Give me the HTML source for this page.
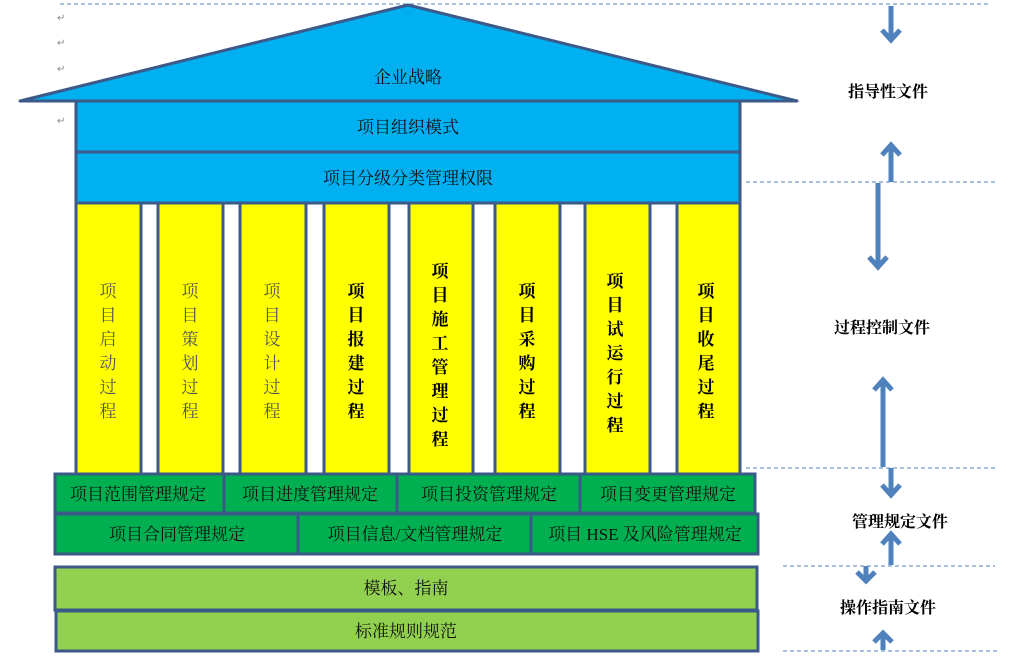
<!DOCTYPE html>
<html><head><meta charset="utf-8"><style>
html,body{margin:0;padding:0;background:#fff;}
svg{display:block;}
.t{font-family:"Liberation Serif","Noto Serif CJK SC",serif;font-size:17px;text-anchor:middle;fill:#111;}
.b{font-family:"Liberation Serif","Noto Serif CJK SC",serif;font-size:16px;font-weight:bold;text-anchor:middle;fill:#000;}
.r{font-family:"Liberation Sans",sans-serif;font-size:10px;fill:#888;}
</style></head><body>
<svg width="1015" height="666" viewBox="0 0 1015 666" xmlns="http://www.w3.org/2000/svg">
<g stroke="#4f81bd" stroke-width="1" stroke-dasharray="4,3" fill="none">
<line x1="60" y1="4" x2="990" y2="4"/>
<line x1="746" y1="182" x2="995" y2="182"/>
<line x1="746" y1="468" x2="995" y2="468"/>
<line x1="783" y1="566" x2="995" y2="566"/>
<line x1="783" y1="651" x2="1000" y2="651"/>
</g>
<text class="r" x="57" y="21">↵</text><text class="r" x="57" y="46">↵</text><text class="r" x="57" y="72">↵</text><text class="r" x="57" y="124">↵</text>
<polygon points="20,101 408,5 797,101" fill="#00b0f0" stroke="#3b5a8a" stroke-width="3" stroke-linejoin="round"/>
<text class="t" x="408" y="83">企业战略</text>
<rect x="76" y="101" width="664" height="51" fill="#00b0f0" stroke="#3b5a8a" stroke-width="3"/>
<rect x="76" y="152" width="664" height="51" fill="#00b0f0" stroke="#3b5a8a" stroke-width="3"/>
<text class="t" x="408" y="133">项目组织模式</text>
<text class="t" x="408" y="184">项目分级分类管理权限</text>
<g fill="#ffff00" stroke="#3b5a8a" stroke-width="3">
<rect x="76" y="203" width="65" height="272"/>
<rect x="158" y="203" width="65" height="272"/>
<rect x="240" y="203" width="66" height="272"/>
<rect x="324" y="203" width="65" height="272"/>
<rect x="409" y="203" width="64" height="272"/>
<rect x="495" y="203" width="65" height="272"/>
<rect x="585" y="203" width="65" height="272"/>
<rect x="677" y="203" width="63" height="272"/>
</g>
<text class="t" x="108" y="297" style="fill:#555"><tspan x="108">项</tspan><tspan x="108" dy="24">目</tspan><tspan x="108" dy="24">启</tspan><tspan x="108" dy="24">动</tspan><tspan x="108" dy="24">过</tspan><tspan x="108" dy="24">程</tspan></text>
<text class="t" x="190" y="297" style="fill:#555"><tspan x="190">项</tspan><tspan x="190" dy="24">目</tspan><tspan x="190" dy="24">策</tspan><tspan x="190" dy="24">划</tspan><tspan x="190" dy="24">过</tspan><tspan x="190" dy="24">程</tspan></text>
<text class="t" x="272" y="297" style="fill:#555"><tspan x="272">项</tspan><tspan x="272" dy="24">目</tspan><tspan x="272" dy="24">设</tspan><tspan x="272" dy="24">计</tspan><tspan x="272" dy="24">过</tspan><tspan x="272" dy="24">程</tspan></text>
<text class="t" x="356" y="297" style="fill:#000;font-weight:bold"><tspan x="356">项</tspan><tspan x="356" dy="24">目</tspan><tspan x="356" dy="24">报</tspan><tspan x="356" dy="24">建</tspan><tspan x="356" dy="24">过</tspan><tspan x="356" dy="24">程</tspan></text>
<text class="t" x="440" y="277" style="fill:#000;font-weight:bold"><tspan x="440">项</tspan><tspan x="440" dy="24">目</tspan><tspan x="440" dy="24">施</tspan><tspan x="440" dy="24">工</tspan><tspan x="440" dy="24">管</tspan><tspan x="440" dy="24">理</tspan><tspan x="440" dy="24">过</tspan><tspan x="440" dy="24">程</tspan></text>
<text class="t" x="527" y="297" style="fill:#000;font-weight:bold"><tspan x="527">项</tspan><tspan x="527" dy="24">目</tspan><tspan x="527" dy="24">采</tspan><tspan x="527" dy="24">购</tspan><tspan x="527" dy="24">过</tspan><tspan x="527" dy="24">程</tspan></text>
<text class="t" x="615" y="287" style="fill:#000;font-weight:bold"><tspan x="615">项</tspan><tspan x="615" dy="24">目</tspan><tspan x="615" dy="24">试</tspan><tspan x="615" dy="24">运</tspan><tspan x="615" dy="24">行</tspan><tspan x="615" dy="24">过</tspan><tspan x="615" dy="24">程</tspan></text>
<text class="t" x="706" y="297" style="fill:#000;font-weight:bold"><tspan x="706">项</tspan><tspan x="706" dy="24">目</tspan><tspan x="706" dy="24">收</tspan><tspan x="706" dy="24">尾</tspan><tspan x="706" dy="24">过</tspan><tspan x="706" dy="24">程</tspan></text>
<g fill="#00b050" stroke="#3b5a8a" stroke-width="3">
<rect x="55" y="474" width="169" height="39"/>
<rect x="224" y="474" width="173" height="39"/>
<rect x="397" y="474" width="183" height="39"/>
<rect x="580" y="474" width="175" height="39"/>
<rect x="55" y="514" width="243" height="40"/>
<rect x="298" y="514" width="233" height="40"/>
<rect x="531" y="514" width="227" height="40"/>
</g>
<text class="t" x="138" y="500">项目范围管理规定</text>
<text class="t" x="310" y="500">项目进度管理规定</text>
<text class="t" x="489" y="500">项目投资管理规定</text>
<text class="t" x="668" y="500">项目变更管理规定</text>
<text class="t" x="177" y="540">项目合同管理规定</text>
<text class="t" x="415" y="540">项目信息/文档管理规定</text>
<text class="t" x="645" y="540">项目 HSE 及风险管理规定</text>
<g fill="#92d050" stroke="#3b5a8a" stroke-width="3">
<rect x="55" y="567" width="702" height="43"/>
<rect x="56" y="611" width="702" height="40"/>
</g>
<text class="t" x="406" y="594">模板、指南</text>
<text class="t" x="406" y="637">标准规则规范</text>
<g stroke="#4f81bd" stroke-width="5" fill="none" stroke-linecap="butt" stroke-linejoin="miter">
<line x1="891" y1="6" x2="891" y2="40"/><polyline points="882,30 891,40 900,30"/>
<line x1="891" y1="182" x2="891" y2="145"/><polyline points="882,155 891,145 900,155"/>
<line x1="878" y1="183" x2="878" y2="267"/><polyline points="869,257 878,267 887,257"/>
<line x1="883" y1="467" x2="883" y2="380"/><polyline points="874,390 883,380 892,390"/>
<line x1="891" y1="468" x2="891" y2="495"/><polyline points="882,485 891,495 900,485"/>
<line x1="891" y1="565" x2="891" y2="534"/><polyline points="882,544 891,534 900,544"/>
<line x1="866" y1="566" x2="866" y2="581"/><polyline points="857,572 866,581 875,572"/>
<line x1="883" y1="650" x2="883" y2="633"/><polyline points="874,642 883,633 892,642"/>
</g>
<text class="b" x="888" y="97">指导性文件</text>
<text class="b" x="882" y="333">过程控制文件</text>
<text class="b" x="900" y="527">管理规定文件</text>
<text class="b" x="888" y="613">操作指南文件</text>
</svg>
</body></html>
